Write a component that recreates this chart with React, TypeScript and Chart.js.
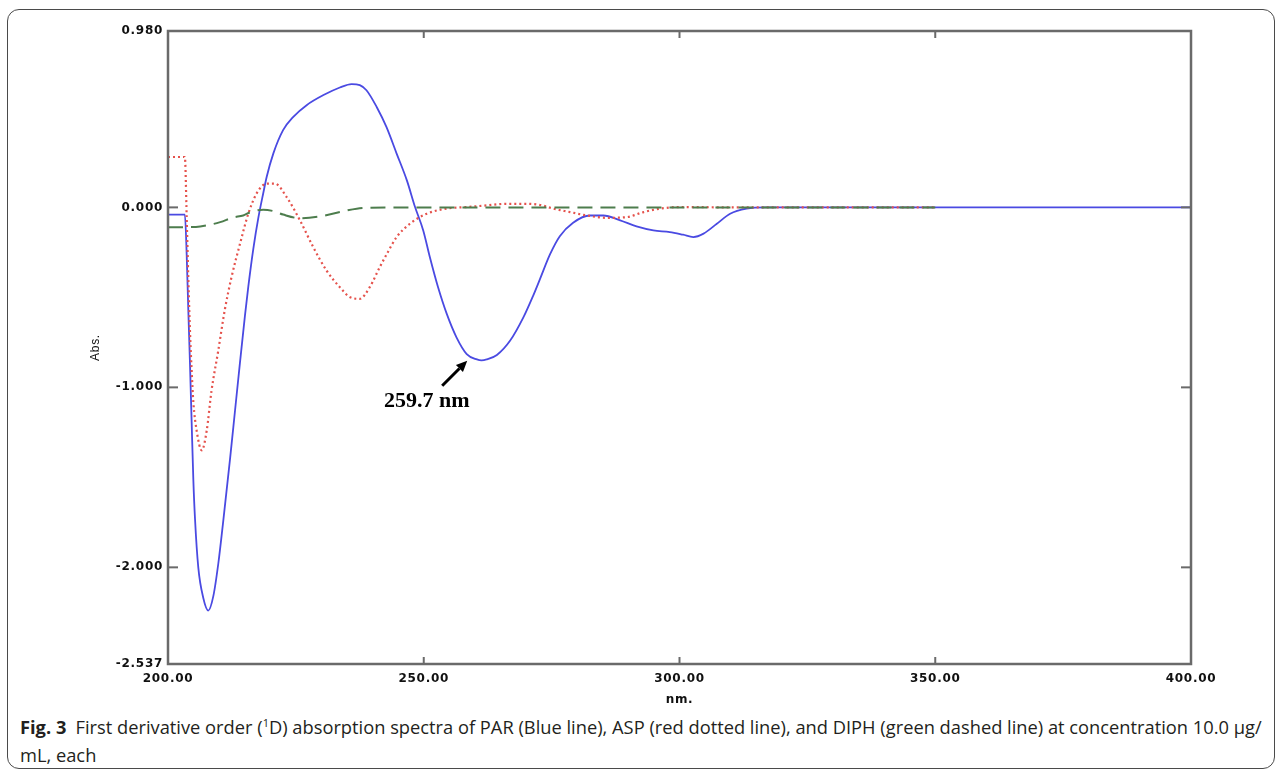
import React, { useEffect, useRef } from "react";
import { Chart, registerables } from "chart.js";

Chart.register(...registerables);

// PAR (blue solid line)
const PAR_X = [200, 203.3, 203.65, 203.97, 204.3, 204.63, 204.95, 205.28, 205.92, 206.9, 207.88, 208.86, 209.83, 210.81, 212.12, 213.1, 214.08, 215.05, 215.7, 216.68, 217.65, 218.63, 219.3, 220.6, 222.5, 224.5, 227.1, 230.4, 233.6, 235.9, 237.5, 238.8, 240.8, 242.7, 244.7, 246.7, 248.3, 249.9, 251.2, 252.8, 254.5, 256.4, 258.4, 260.4, 261.3, 262.3, 264.3, 266.9, 269.5, 271.4, 272.7, 274.7, 276.6, 279.2, 282.5, 285.1, 288.4, 291.6, 294.9, 298.1, 300.7, 302.7, 304.7, 307.3, 309.9, 313.1, 317, 330, 340, 350, 375, 400];
const PAR_Y = [-0.04, -0.04, -0.26, -0.57, -0.87, -1.2, -1.51, -1.73, -2.0, -2.17, -2.24, -2.16, -1.98, -1.74, -1.4, -1.13, -0.86, -0.6, -0.44, -0.23, -0.06, 0.08, 0.17, 0.3, 0.429, 0.503, 0.568, 0.624, 0.666, 0.685, 0.679, 0.651, 0.558, 0.447, 0.299, 0.15, 0.002, -0.128, -0.277, -0.444, -0.592, -0.722, -0.815, -0.845, -0.85, -0.845, -0.82, -0.74, -0.61, -0.49, -0.4, -0.26, -0.16, -0.085, -0.045, -0.045, -0.072, -0.106, -0.128, -0.137, -0.152, -0.165, -0.146, -0.091, -0.035, -0.007, 0, 0, 0, 0, 0, 0];

// ASP (red dotted line)
const ASP_X = [200, 203.3, 203.65, 203.97, 204.3, 204.63, 204.95, 205.6, 206.6, 207.57, 208.5, 209.8, 211.1, 212.4, 214.1, 215.7, 217.3, 219.3, 220.9, 223.2, 225.8, 228.4, 231, 233.6, 235.6, 237.5, 239.5, 241.4, 242.8, 244.7, 247.3, 250.6, 254.5, 258.4, 262.3, 266.2, 270.1, 273, 275.3, 278.6, 281.9, 285.8, 289.7, 293, 296.2, 300.1, 310, 320, 335, 350];
const ASP_Y = [0.28, 0.28, -0.05, -0.39, -0.69, -0.91, -1.08, -1.24, -1.35, -1.24, -1.02, -0.8, -0.57, -0.39, -0.2, -0.035, 0.076, 0.132, 0.132, 0.057, -0.072, -0.221, -0.351, -0.444, -0.499, -0.508, -0.44, -0.332, -0.258, -0.165, -0.091, -0.035, -0.007, 0.002, 0.011, 0.02, 0.02, 0.012, -0.007, -0.026, -0.045, -0.058, -0.054, -0.026, -0.007, 0.002, 0, 0, 0, 0];

// DIPH (green dashed line)
const DIPH_X = [200, 203.3, 206.3, 210.2, 212.7, 214.7, 216, 218.6, 220.5, 222.5, 225.8, 229.7, 233.6, 236.9, 243.4, 260, 280, 300, 320, 350];
const DIPH_Y = [-0.11, -0.11, -0.106, -0.082, -0.056, -0.045, -0.028, -0.013, -0.02, -0.04, -0.06, -0.05, -0.026, -0.007, 0, 0, 0, 0, 0, 0];

const X_TICKS = [200, 250, 300, 350, 400];
const Y_TICKS = [0.98, 0, -1, -2, -2.537];
const X_MIN = 200;
const X_MAX = 400;
const Y_MIN = -2.537;
const Y_MAX = 0.98;

const PEAK_LABEL = "259.7 nm";
const ARROW_TIP = [258.5, -0.852];
const ARROW_TAIL = [253.6, -0.991];
const LABEL_POS = [250.6, -1.08];

const CANVAS_W = 1284;
const CANVAS_H = 707;
const PLOT_BOTTOM = 664;

const tickFont = { family: '"DejaVu Sans", Verdana, sans-serif', size: 12, weight: "bold" as const };

const framePlugin = {
  id: "frame",
  beforeDraw(chart: any) {
    chart.ctx.letterSpacing = "0.7px";
  },
  afterDraw(chart: any) {
    const { ctx, chartArea: a, scales } = chart;
    const x = scales.x;
    const y = scales.y;
    const seg = (x1: number, y1: number, x2: number, y2: number) => {
      ctx.beginPath();
      ctx.moveTo(x1, y1);
      ctx.lineTo(x2, y2);
      ctx.stroke();
    };
    ctx.save();
    ctx.letterSpacing = "0px";
    ctx.strokeStyle = "#6a6a6a";
    ctx.lineWidth = 2.5;
    ctx.strokeRect(a.left, a.top, a.right - a.left, a.bottom - a.top);
    ctx.lineWidth = 2;
    Y_TICKS.filter((v) => v < Y_MAX && v > Y_MIN).forEach((v) => {
      const py = y.getPixelForValue(v);
      seg(a.left, py, a.left + 10, py);
      seg(a.right - 10, py, a.right, py);
    });
    X_TICKS.filter((v) => v > X_MIN && v < X_MAX).forEach((v) => {
      const px = x.getPixelForValue(v);
      seg(px, a.bottom, px, a.bottom - 7);
      seg(px, a.top, px, a.top + 7);
    });

    // arrow annotation
    const tx = x.getPixelForValue(ARROW_TIP[0]);
    const ty = y.getPixelForValue(ARROW_TIP[1]);
    const sx = x.getPixelForValue(ARROW_TAIL[0]);
    const sy = y.getPixelForValue(ARROW_TAIL[1]);
    const ang = Math.atan2(ty - sy, tx - sx);
    const head = 11;
    const bx = tx - head * Math.cos(ang);
    const by = ty - head * Math.sin(ang);
    ctx.strokeStyle = "#000";
    ctx.fillStyle = "#000";
    ctx.lineWidth = 3;
    seg(sx, sy, bx, by);
    ctx.beginPath();
    ctx.moveTo(tx, ty);
    ctx.lineTo(bx + 5 * Math.sin(ang), by - 5 * Math.cos(ang));
    ctx.lineTo(bx - 5 * Math.sin(ang), by + 5 * Math.cos(ang));
    ctx.closePath();
    ctx.fill();

    ctx.font = 'bold 22px "Liberation Serif", "Times New Roman", serif';
    ctx.textAlign = "center";
    ctx.textBaseline = "middle";
    ctx.fillText(PEAK_LABEL, x.getPixelForValue(LABEL_POS[0]), y.getPixelForValue(LABEL_POS[1]));
    ctx.restore();
  },
};

const toPoints = (xs: number[], ys: number[]) => xs.map((v, i) => ({ x: v, y: ys[i] }));

export default function App() {
  const ref = useRef<HTMLCanvasElement | null>(null);

  useEffect(() => {
    if (!ref.current) return;
    const chart = new Chart(ref.current, {
      type: "line",
      data: {
        datasets: [
          {
            label: "DIPH",
            data: toPoints(DIPH_X, DIPH_Y),
            borderColor: "#4d7d4d",
            borderWidth: 2,
            borderDash: [15, 8],
            cubicInterpolationMode: "monotone",
            pointRadius: 0,
            fill: false,
          },
          {
            label: "ASP",
            data: toPoints(ASP_X, ASP_Y),
            borderColor: "#e5524c",
            borderWidth: 2.2,
            borderDash: [2, 3],
            cubicInterpolationMode: "monotone",
            pointRadius: 0,
            fill: false,
          },
          {
            label: "PAR",
            data: toPoints(PAR_X, PAR_Y),
            borderColor: "#4a4ae2",
            borderWidth: 1.8,
            cubicInterpolationMode: "monotone",
            pointRadius: 0,
            fill: false,
          },
        ],
      },
      options: {
        responsive: false,
        animation: false,
        devicePixelRatio: 1,
        layout: { padding: { left: 88, right: CANVAS_W - 1191, top: 31, bottom: 0 } },
        plugins: { legend: { display: false }, tooltip: { enabled: false } },
        elements: { point: { radius: 0 } },
        scales: {
          x: {
            type: "linear",
            min: X_MIN,
            max: X_MAX,
            afterBuildTicks: (s: any) => {
              s.ticks = X_TICKS.map((v) => ({ value: v }));
            },
            afterFit: (s: any) => {
              s.height = CANVAS_H - PLOT_BOTTOM;
            },
            grid: { display: false, drawTicks: false },
            border: { display: false },
            ticks: {
              padding: 8,
              font: tickFont,
              color: "#111",
              maxRotation: 0,
              autoSkip: false,
              callback: (v: any) => Number(v).toFixed(2),
            },
            title: {
              display: true,
              text: "nm.",
              color: "#111",
              padding: 0,
              font: { family: '"DejaVu Sans", Verdana, sans-serif', size: 12, weight: "bold" },
            },
          },
          y: {
            type: "linear",
            min: Y_MIN,
            max: Y_MAX,
            afterBuildTicks: (s: any) => {
              s.ticks = Y_TICKS.map((v) => ({ value: v }));
            },
            afterFit: (s: any) => {
              s.width = 80;
            },
            grid: { display: false, drawTicks: false },
            border: { display: false },
            ticks: {
              padding: 5,
              font: tickFont,
              color: "#111",
              autoSkip: false,
              callback: (v: any) => Number(v).toFixed(3),
            },
            title: {
              display: true,
              text: "Abs.",
              color: "#111",
              padding: 0,
              font: { family: '"Liberation Sans", Arial, sans-serif', size: 12 },
            },
          },
        },
      },
      plugins: [framePlugin],
    } as any);
    return () => chart.destroy();
  }, []);

  return (
    <div>
      <div
        style={{
          position: "absolute",
          left: 7,
          top: 9,
          width: 1268,
          height: 760,
          border: "1.5px solid #4a4a4a",
          borderRadius: 12,
          boxSizing: "border-box",
        }}
      />
      <canvas
        ref={ref}
        width={CANVAS_W}
        height={CANVAS_H}
        style={{ position: "absolute", left: 0, top: 0, width: CANVAS_W, height: CANVAS_H }}
      />
      <div
        style={{
          position: "absolute",
          left: 20,
          top: 713,
          fontFamily: '"Open Sans", "Noto Sans", sans-serif',
          fontSize: 18.3,
          lineHeight: "28px",
          color: "#231f20",
          whiteSpace: "nowrap",
        }}
      >
        <div>
          <b>Fig. 3</b>
          {"\u2002"}First derivative order (
          <sup style={{ fontSize: 11, lineHeight: 0 }}>1</sup>D) absorption spectra of PAR (Blue line), ASP (red dotted
          line), and DIPH (green dashed line) at concentration 10.0 µg/
        </div>
        <div>mL, each</div>
      </div>
    </div>
  );
}
